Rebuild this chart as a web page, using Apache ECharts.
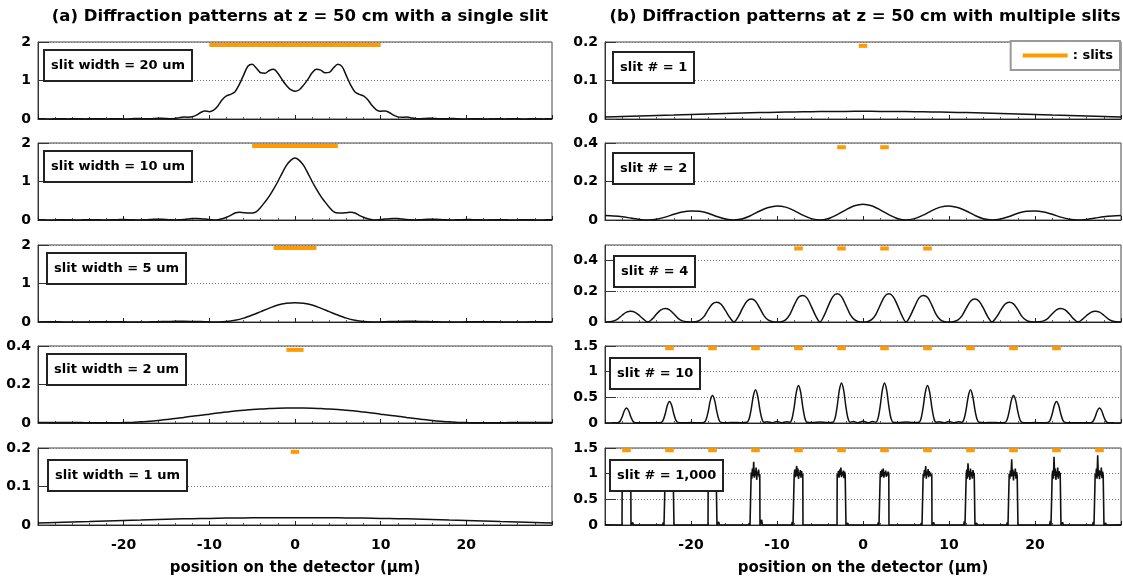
<!DOCTYPE html>
<html>
<head>
<meta charset="utf-8">
<script src="https://cdn.jsdelivr.net/npm/echarts@6/dist/echarts.min.js"></script>
<style>
  html, body { margin: 0; background: #fff; }
  #chart { width: 1123px; height: 584px; }
</style>
</head>
<body>
<div id="chart"></div>
<script>
// positions on the detector (um)
const X05 = [
  -30,-29.5,-29,-28.5,-28,-27.5,-27,-26.5,-26,-25.5,
  -25,-24.5,-24,-23.5,-23,-22.5,-22,-21.5,-21,-20.5,
  -20,-19.5,-19,-18.5,-18,-17.5,-17,-16.5,-16,-15.5,
  -15,-14.5,-14,-13.5,-13,-12.5,-12,-11.5,-11,-10.5,
  -10,-9.5,-9,-8.5,-8,-7.5,-7,-6.5,-6,-5.5,
  -5,-4.5,-4,-3.5,-3,-2.5,-2,-1.5,-1,-0.5,
  0,
  0.5,1,1.5,2,2.5,3,3.5,4,4.5,5,
  5.5,6,6.5,7,7.5,8,8.5,9,9.5,10,
  10.5,11,11.5,12,12.5,13,13.5,14,14.5,15,
  15.5,16,16.5,17,17.5,18,18.5,19,19.5,20,
  20.5,21,21.5,22,22.5,23,23.5,24,24.5,25,
  25.5,26,26.5,27,27.5,28,28.5,29,29.5,30
];
const X1 = [
  -30,-29,-28,-27,-26,-25,-24,-23,-22,-21,
  -20,-19,-18,-17,-16,-15,-14,-13,-12,-11,
  -10,-9,-8,-7,-6,-5,-4,-3,-2,-1,
  0,
  1,2,3,4,5,6,7,8,9,10,
  11,12,13,14,15,16,17,18,19,20,
  21,22,23,24,25,26,27,28,29,30
];
const X2 = [-30,-28,-26,-24,-22,-20,-18,-16,-14,-12,-10,-8,-6,-4,-2,0,
  2,4,6,8,10,12,14,16,18,20,22,24,26,28,30];

// (a) single slit intensities
const width20 = [
  0.004,0.005,0.003,0.003,0.005,0.006,0.004,0.003,0.004,0.006,
  0.005,0.003,0.004,0.007,0.007,0.004,0.003,0.006,0.009,0.007,
  0.003,0.003,0.009,0.013,0.01,0.004,0.004,0.012,0.02,0.021,
  0.01,0.004,0.012,0.036,0.052,0.046,0.056,0.1,0.17,0.21,
  0.19,0.23,0.34,0.5,0.6,0.64,0.71,0.9,1.14,1.37,
  1.42,1.32,1.2,1.19,1.26,1.29,1.19,1.02,0.87,0.76,
  0.72,
  0.76,0.88,1.03,1.2,1.29,1.27,1.2,1.21,1.33,1.42,
  1.36,1.12,0.88,0.7,0.64,0.6,0.5,0.35,0.24,0.2,
  0.21,0.17,0.1,0.055,0.045,0.05,0.035,0.012,0.005,0.01,
  0.02,0.018,0.01,0.004,0.004,0.01,0.012,0.008,0.003,0.003,
  0.006,0.008,0.006,0.003,0.003,0.006,0.007,0.005,0.003,0.004,
  0.006,0.005,0.003,0.003,0.005,0.006,0.004,0.003,0.004,0.005
];
const width10 = [
  0.004,0.004,0.003,0.002,0.003,0.005,0.006,0.005,0.003,0.002,
  0.003,0.005,0.007,0.007,0.005,0.003,0.002,0.004,0.007,0.01,
  0.011,0.009,0.005,0.002,0.002,0.006,0.012,0.018,0.02,0.018,
  0.012,0.005,0.002,0.005,0.015,0.028,0.038,0.04,0.035,0.025,
  0.01,0.003,0.008,0.03,0.07,0.12,0.18,0.2,0.19,0.18,
  0.18,0.22,0.33,0.47,0.62,0.8,1.0,1.22,1.42,1.55,
  1.61,
  1.55,1.42,1.22,1.0,0.8,0.62,0.47,0.33,0.22,0.18,
  0.18,0.19,0.2,0.18,0.12,0.07,0.03,0.008,0.003,0.01,
  0.025,0.035,0.04,0.038,0.028,0.015,0.005,0.002,0.005,0.012,
  0.018,0.02,0.018,0.012,0.006,0.002,0.002,0.005,0.009,0.011,
  0.01,0.007,0.004,0.002,0.003,0.005,0.007,0.007,0.005,0.003,
  0.002,0.003,0.005,0.006,0.005,0.003,0.002,0.003,0.004,0.004
];
const width5 = [
  0.003,0.004,0.004,0.003,0.002,0.002,0.003,0.005,0.006,0.006,
  0.004,0.002,0.002,0.004,0.008,0.013,0.017,0.018,0.015,0.01,
  0.004,0.002,0.012,0.045,0.1,0.18,0.27,0.36,0.44,0.485,
  0.5,
  0.485,0.44,0.36,0.27,0.18,0.1,0.045,0.012,0.002,0.004,
  0.01,0.015,0.018,0.017,0.013,0.008,0.004,0.002,0.002,0.004,
  0.006,0.006,0.005,0.003,0.002,0.002,0.003,0.004,0.004,0.003
];
const width2 = [
  0.002,0.002,0.002,0.002,0.002,0.002,0.001,0.001,0.001,0.001,
  0.002,0.003,0.006,0.009,0.013,0.018,0.023,0.029,0.035,0.04,
  0.046,0.052,0.057,0.062,0.066,0.07,0.073,0.075,0.077,0.078,
  0.078,
  0.078,0.077,0.075,0.073,0.07,0.066,0.062,0.057,0.052,0.046,
  0.04,0.035,0.029,0.023,0.018,0.013,0.009,0.006,0.003,0.002,
  0.001,0.001,0.001,0.001,0.002,0.002,0.002,0.002,0.002,0.002
];
const width1 = [0.005,0.0065,0.0078,0.009,0.0105,0.0118,0.013,0.0145,0.0155,0.0165,0.0172,0.018,0.0185,0.0188,0.019,
  0.019,
  0.019,0.0188,0.0185,0.018,0.0172,0.0165,0.0155,0.0145,0.013,0.0118,0.0105,0.009,0.0078,0.0065,0.005];

// (b) multiple slit intensities
const slit1 = [0.005,0.0063,0.0076,0.009,0.0103,0.0117,0.013,0.0143,0.0155,0.0166,0.0175,0.0183,0.019,0.0195,0.0198,
  0.02,
  0.0198,0.0195,0.019,0.0183,0.0175,0.0166,0.0155,0.0143,0.013,0.0117,0.0103,0.009,0.0076,0.0063,0.005];
const slit2 = [
  0.023,0.021,0.017,0.01,0.003,0,0.004,0.015,0.03,0.042,
  0.047,0.045,0.035,0.018,0.005,0,0.006,0.024,0.047,0.065,
  0.073,0.067,0.049,0.025,0.007,0,0.008,0.028,0.053,0.074,
  0.082,
  0.074,0.053,0.028,0.008,0,0.007,0.025,0.049,0.067,0.073,
  0.065,0.047,0.024,0.006,0,0.005,0.018,0.035,0.045,0.047,
  0.042,0.03,0.015,0.004,0,0.003,0.01,0.017,0.021,0.023
];
const slit4 = [
  0,0.001,0.006,0.02,0.044,0.064,0.07,0.063,0.042,0.017,
  0,0.02,0.052,0.078,0.087,0.079,0.053,0.024,0.007,0.001,
  0,0.001,0.01,0.035,0.08,0.118,0.128,0.115,0.075,0.03,
  0,0.035,0.09,0.135,0.149,0.135,0.09,0.04,0.012,0.002,
  0,0.002,0.014,0.05,0.11,0.16,0.172,0.155,0.1,0.04,
  0,0.045,0.11,0.165,0.183,0.165,0.11,0.05,0.015,0.002,
  0,
  0.002,0.015,0.05,0.11,0.165,0.183,0.165,0.11,0.045,0,
  0.04,0.1,0.155,0.172,0.16,0.11,0.05,0.014,0.002,0,
  0.002,0.012,0.04,0.09,0.135,0.149,0.135,0.09,0.035,0,
  0.03,0.075,0.115,0.128,0.118,0.08,0.035,0.01,0.001,0,
  0.001,0.007,0.024,0.053,0.079,0.087,0.078,0.052,0.02,0,
  0.017,0.042,0.063,0.07,0.064,0.044,0.02,0.006,0.001,0
];
const slit10 = [
  [-30,0.002],[-29.2,0.003],
  [-28.5,0.006],[-28.25,0.035],[-28,0.122],[-27.75,0.238],[-27.5,0.29],[-27.25,0.238],[-27,0.122],[-26.75,0.035],[-26.5,0.006],
  [-25.8,0.003],[-25,0.006],[-24.2,0.003],
  [-23.5,0.008],[-23.25,0.05],[-23,0.176],[-22.75,0.344],[-22.5,0.42],[-22.25,0.344],[-22,0.176],[-21.75,0.05],[-21.5,0.008],
  [-20.8,0.004],[-20,0.008],[-19.2,0.004],
  [-18.5,0.011],[-18.25,0.064],[-18,0.225],[-17.75,0.44],[-17.5,0.535],[-17.25,0.44],[-17,0.225],[-16.75,0.064],[-16.5,0.011],
  [-15.8,0.006],[-15,0.012],[-14.2,0.006],
  [-13.5,0.013],[-13.25,0.078],[-13,0.27],[-12.75,0.53],[-12.5,0.65],[-12.25,0.53],[-12,0.27],[-11.75,0.078],[-11.5,0.013],
  [-11.1,0.025],[-10.6,0.004],[-10,0.03],[-9.4,0.004],[-8.9,0.025],
  [-8.5,0.015],[-8.25,0.088],[-8,0.31],[-7.75,0.6],[-7.5,0.73],[-7.25,0.6],[-7,0.31],[-6.75,0.088],[-6.5,0.015],
  [-5.8,0.01],[-5,0.02],[-4.2,0.01],
  [-3.5,0.016],[-3.25,0.094],[-3,0.33],[-2.75,0.64],[-2.5,0.78],[-2.25,0.64],[-2,0.33],[-1.75,0.094],[-1.5,0.016],
  [-1.1,0.03],[-0.6,0.004],[0,0.035],[0.6,0.004],[1.1,0.03],
  [1.5,0.016],[1.75,0.094],[2,0.33],[2.25,0.64],[2.5,0.78],[2.75,0.64],[3,0.33],[3.25,0.094],[3.5,0.016],
  [4.2,0.01],[5,0.02],[5.8,0.01],
  [6.5,0.015],[6.75,0.088],[7,0.31],[7.25,0.6],[7.5,0.73],[7.75,0.6],[8,0.31],[8.25,0.088],[8.5,0.015],
  [8.9,0.025],[9.4,0.004],[10,0.03],[10.6,0.004],[11.1,0.025],
  [11.5,0.013],[11.75,0.078],[12,0.27],[12.25,0.53],[12.5,0.65],[12.75,0.53],[13,0.27],[13.25,0.078],[13.5,0.013],
  [14.2,0.006],[15,0.012],[15.8,0.006],
  [16.5,0.011],[16.75,0.064],[17,0.225],[17.25,0.44],[17.5,0.535],[17.75,0.44],[18,0.225],[18.25,0.064],[18.5,0.011],
  [19.2,0.004],[20,0.008],[20.8,0.004],
  [21.5,0.008],[21.75,0.05],[22,0.176],[22.25,0.344],[22.5,0.42],[22.75,0.344],[23,0.176],[23.25,0.05],[23.5,0.008],
  [24.2,0.003],[25,0.006],[25.8,0.003],
  [26.5,0.006],[26.75,0.035],[27,0.122],[27.25,0.238],[27.5,0.29],[27.75,0.238],[28,0.122],[28.25,0.035],[28.5,0.006],
  [29.2,0.003],[30,0.002]
];

// 1,000 slits: bright bands around each grating order
const multiCenters = [-27.5,-22.5,-17.5,-12.5,-7.5,-2.5,2.5,7.5,12.5,17.5,22.5,27.5];
const rectOffsets = [-0.8,-0.72,-0.64,-0.52,-0.5,-0.43,-0.36,-0.29,-0.21,-0.14,-0.07,0,0.07,0.14,0.21,0.29,0.36,0.43,0.5,0.52,0.64,0.72,0.8];
const rectHeights = [
  [0,0.03,0,0, 0.98,1.1,0.9,1.06,0.94,1.14,0.92,1.04,0.96,1.12,0.9,1.05,0.95,1.08,1.0, 0,0,0.05,0],
  [0,0.05,0,0, 1.0,0.92,1.08,0.95,1.15,0.9,1.03,0.97,1.1,0.93,1.06,0.9,1.04,0.96,0.98, 0,0,0.03,0],
  [0,0.02,0,0, 0.96,1.06,0.92,1.12,0.94,1.02,1.15,0.9,1.05,0.95,1.09,0.92,1.03,0.97,1.0, 0,0,0.06,0],
  [0,0.04,0,0, 1.02,0.9,1.1,0.95,1.23,0.92,1.06,0.96,1.12,0.88,1.04,0.97,1.08,0.93,0.99, 0,0,0.1,0],
  [0,0.06,0,0, 0.97,1.08,0.93,1.04,1.15,0.95,1.1,0.9,1.02,0.96,1.07,0.92,1.05,0.95,1.0, 0,0,0.03,0],
  [0,0.03,0,0, 1.0,0.94,1.05,0.92,1.08,0.97,1.12,0.93,1.03,0.96,1.06,0.91,1.04,0.97,0.98, 0,0,0.04,0],
  [0,0.05,0,0, 0.98,1.05,0.93,1.08,0.95,1.1,0.92,1.03,0.97,1.06,0.94,1.02,0.96,1.04,1.0, 0,0,0.02,0],
  [0,0.04,0,0, 1.0,0.92,1.07,0.96,1.15,0.9,1.04,0.97,1.09,0.93,1.05,0.96,1.02,0.94,0.99, 0,0,0.05,0],
  [0,0.07,0,0, 0.97,1.08,0.9,1.2,0.94,1.05,0.88,1.1,0.95,1.03,0.9,1.07,0.96,1.02,1.0, 0,0,0.04,0],
  [0,0.05,0,0, 1.0,0.9,1.06,0.94,1.28,0.95,1.08,0.87,1.04,0.96,1.1,0.9,1.03,0.95,0.98, 0,0,0.03,0],
  [0,0.08,0,0, 0.98,1.06,0.9,1.33,0.96,1.1,0.88,1.04,0.94,1.12,0.9,1.05,0.97,1.02,1.0, 0,0,0.05,0],
  [0,0.06,0,0, 1.0,0.93,1.1,0.9,1.36,0.95,1.07,0.89,1.05,0.97,1.12,0.91,1.04,0.96,0.99, 0,0,0.04,0]
];
const multiEnds = [[-30,0.002],[30,0.002]];

// slit openings (um)
const slitA20 = [[-10,10]];
const slitA10 = [[-5,5]];
const slitA5 = [[-2.5,2.5]];
const slitA2 = [[-1,1]];
const slitA1 = [[-0.5,0.5]];
const slitB1 = [[-0.5,0.5]];
const slitB2 = [[-3,-2],[2,3]];
const slitB4 = [[-8,-7],[-3,-2],[2,3],[7,8]];
const slitB10 = [[-23,-22],[-18,-17],[-13,-12],[-8,-7],[-3,-2],[2,3],[7,8],[12,13],[17,18],[22,23]];
const slitB1000 = [[-28,-27],[-23,-22],[-18,-17],[-13,-12],[-8,-7],[-3,-2],[2,3],[7,8],[12,13],[17,18],[22,23],[27,28]];

const FONT = '"DejaVu Sans", sans-serif';
const ORANGE = '#ff9a00';
const ROW_TOP = [42, 143, 245, 346, 448];
const ROW_H = 77;

function zip(xs, ys) { return xs.map((x, i) => [x, ys[i]]); }
function multiPairs() {
  const out = [multiEnds[0]];
  multiCenters.forEach((c, k) => {
    rectOffsets.forEach((o, j) => out.push([c + o, rectHeights[k][j]]));
  });
  out.push(multiEnds[1]);
  return out;
}

const panels = [
  { col: 0, row: 0, data: zip(X05, width20), max: 2, step: 1, label: 'slit width = 20 um', slits: slitA20, slitY: 1.92, box: [44, 50] },
  { col: 0, row: 1, data: zip(X05, width10), max: 2, step: 1, label: 'slit width = 10 um', slits: slitA10, slitY: 1.92, box: [44, 151] },
  { col: 0, row: 2, data: zip(X1, width5), max: 2, step: 1, label: 'slit width = 5 um', slits: slitA5, slitY: 1.92, box: [47, 253] },
  { col: 0, row: 3, data: zip(X1, width2), max: 0.4, step: 0.2, label: 'slit width = 2 um', slits: slitA2, slitY: 0.38, box: [47, 354] },
  { col: 0, row: 4, data: zip(X2, width1), max: 0.2, step: 0.1, label: 'slit width = 1 um', slits: slitA1, slitY: 0.19, box: [48, 460] },
  { col: 1, row: 0, data: zip(X2, slit1), max: 0.2, step: 0.1, label: 'slit # = 1', slits: slitB1, slitY: 0.19, box: [613, 52] },
  { col: 1, row: 1, data: zip(X1, slit2), max: 0.4, step: 0.2, label: 'slit # = 2', slits: slitB2, slitY: 0.378, box: [613, 153] },
  { col: 1, row: 2, data: zip(X05, slit4), max: 0.5, step: 0.2, label: 'slit # = 4', slits: slitB4, slitY: 0.478, box: [614, 256] },
  { col: 1, row: 3, data: slit10, max: 1.5, step: 0.5, label: 'slit # = 10', slits: slitB10, slitY: 1.455, box: [610, 358] },
  { col: 1, row: 4, data: multiPairs(), max: 1.5, step: 0.5, label: 'slit # = 1,000', slits: slitB1000, slitY: 1.455, box: [610, 460], raw: true }
];

const boldText = (size) => ({ fontFamily: FONT, fontWeight: 'bold', fontSize: size, color: '#000' });

const titles = [
  { text: '(a) Diffraction patterns at z = 50 cm with a single slit', left: 295, top: 3, textAlign: 'center', textStyle: boldText(16.5) },
  { text: '(b) Diffraction patterns at z = 50 cm with multiple slits', left: 860, top: 3, textAlign: 'center', textStyle: boldText(16.5) }
];
const grids = [], xAxes = [], yAxes = [], series = [];

panels.forEach((p, i) => {
  grids.push({
    left: p.col ? 605 : 38, top: ROW_TOP[p.row], width: p.col ? 516 : 514, height: ROW_H,
    show: true, borderColor: '#444', borderWidth: 1
  });
  xAxes.push({
    gridIndex: i, type: 'value', min: -30, max: 30, interval: 10,
    axisLine: { show: true, onZero: false, lineStyle: { color: '#222', width: 1 } },
    axisTick: { show: true, inside: true, length: 4, lineStyle: { color: '#222' } },
    minorTick: { show: true, splitNumber: 5, length: 2, lineStyle: { color: '#555' } },
    splitLine: { show: false },
    axisLabel: Object.assign({ show: p.row === 4, margin: 13, showMinLabel: false, showMaxLabel: false }, boldText(14)),
    name: p.row === 4 ? 'position on the detector (μm)' : '',
    nameLocation: 'middle', nameGap: 36,
    nameTextStyle: boldText(15)
  });
  yAxes.push({
    gridIndex: i, type: 'value', min: 0, max: p.max, interval: p.step,
    axisLine: { show: true, onZero: false, lineStyle: { color: '#333', width: 1 } },
    axisTick: { show: true, inside: true, length: 11, lineStyle: { color: '#333' } },
    splitLine: { show: true, lineStyle: { color: '#777', width: 1, type: [1, 2] } },
    axisLabel: Object.assign({ margin: 7, showMaxLabel: p.max !== 0.5 }, boldText(14))
  });
  series.push({
    type: 'line', xAxisIndex: i, yAxisIndex: i, data: p.data,
    symbol: 'none', smooth: p.raw ? false : 0.3, silent: true,
    lineStyle: { color: '#111', width: p.raw ? 1.6 : 1.5 }, itemStyle: { color: '#111' }, z: 2
  });
  const seg = [];
  p.slits.forEach(s => { seg.push([s[0], p.slitY], [s[1], p.slitY], ['-', '-']); });
  series.push({
    type: 'line', name: 'slits', xAxisIndex: i, yAxisIndex: i, data: seg,
    symbol: 'none', connectNulls: false, silent: true,
    lineStyle: { color: ORANGE, width: 4, cap: 'butt' }, itemStyle: { color: ORANGE }, z: 3
  });
  titles.push({
    text: p.label, left: p.box[0], top: p.box[1],
    textStyle: Object.assign({ lineHeight: 17 }, boldText(13)),
    backgroundColor: '#fff', borderColor: '#222', borderWidth: 2, padding: [7, 7]
  });
});

const chart = echarts.init(document.getElementById('chart'));
chart.setOption({
  animation: false,
  title: titles,
  legend: {
    data: ['slits'], right: 3, top: 41, icon: 'rect', itemWidth: 45, itemHeight: 4,
    formatter: ': slits', textStyle: boldText(13), selectedMode: false,
    backgroundColor: '#fff', borderColor: '#999', borderWidth: 2, padding: [8, 7, 8, 12]
  },
  grid: grids,
  xAxis: xAxes,
  yAxis: yAxes,
  series: series
});
</script>
</body>
</html>
